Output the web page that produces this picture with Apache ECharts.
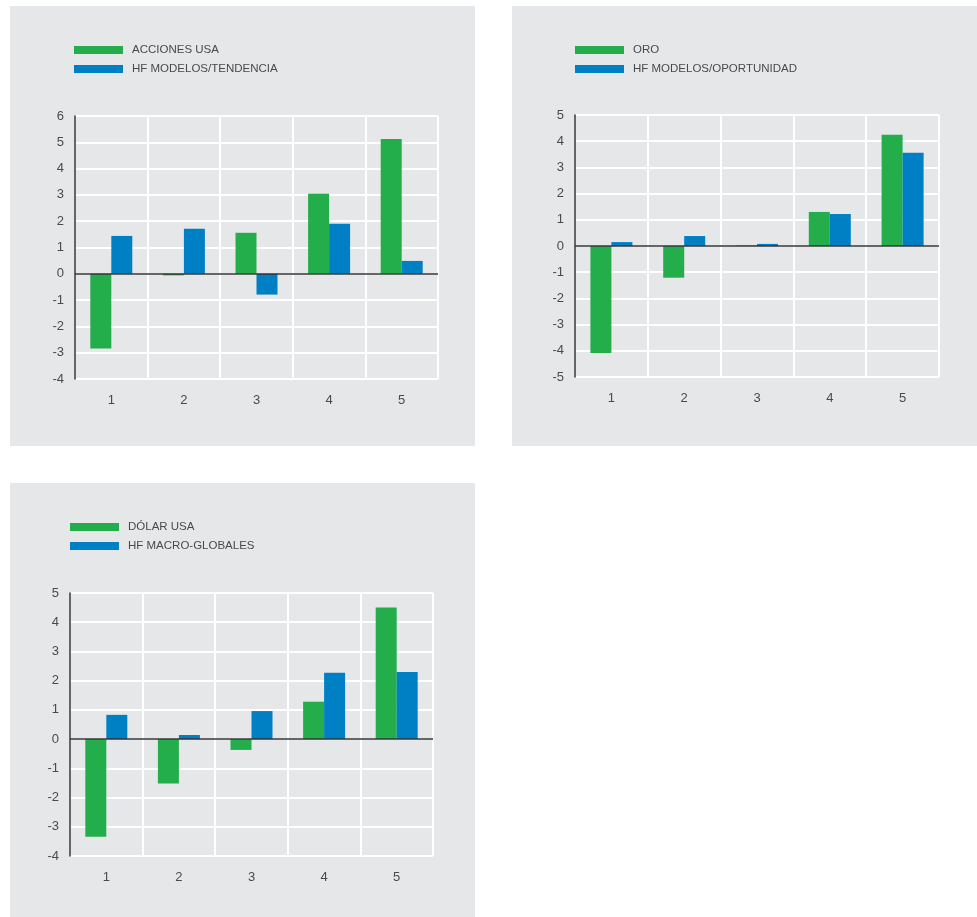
<!DOCTYPE html>
<html>
<head>
<meta charset="utf-8">
<script src="https://cdn.jsdelivr.net/npm/echarts@6/dist/echarts.min.js"></script>
<style>
  html, body { margin: 0; padding: 0; background: #ffffff; }
  #chart { width: 977px; height: 917px; }
</style>
</head>
<body>
<div id="chart"></div>
<script>
// Quintile categories shared by all three panels
const categories = ['1', '2', '3', '4', '5'];

// Panel 1: US equities vs trend-following hedge funds
const accionesUsa = [-2.84, -0.06, 1.56, 3.04, 5.13];
const hfModelosTendencia = [1.44, 1.71, -0.79, 1.90, 0.49];

// Panel 2: gold vs opportunistic model hedge funds
const oro = [-4.08, -1.21, 0.02, 1.30, 4.25];
const hfModelosOportunidad = [0.15, 0.38, 0.08, 1.22, 3.56];

// Panel 3: US dollar vs global macro hedge funds
const dolarUsa = [-3.34, -1.52, -0.37, 1.28, 4.50];
const hfMacroGlobales = [0.83, 0.14, 0.96, 2.27, 2.30];

const GREEN = '#23ae4b';
const BLUE = '#0080c4';
const PANEL_BG = '#e6e7e8';
const TEXT = '#4a4a4a';
const FONT = '"Liberation Sans", Arial, Helvetica, sans-serif';

const panels = [
  { names: ['ACCIONES USA', 'HF MODELOS/TENDENCIA'], data: [accionesUsa, hfModelosTendencia],
    min: -4, max: 6, bg: [10, 6, 465, 440],
    grid: { left: 75, top: 116, width: 363, height: 263 }, legend: { left: 74, top: 43 } },
  { names: ['ORO', 'HF MODELOS/OPORTUNIDAD'], data: [oro, hfModelosOportunidad],
    min: -5, max: 5, bg: [512, 6, 465, 440],
    grid: { left: 575, top: 115, width: 364, height: 262 }, legend: { left: 575, top: 43 } },
  { names: ['DÓLAR USA', 'HF MACRO-GLOBALES'], data: [dolarUsa, hfMacroGlobales],
    min: -4, max: 5, bg: [10, 483, 465, 434],
    grid: { left: 70, top: 593, width: 363, height: 263 }, legend: { left: 70, top: 520 } }
];

const option = {
  animation: false,
  textStyle: { fontFamily: FONT },
  graphic: panels.map(p => ({
    type: 'rect', silent: true, z: -10,
    shape: { x: p.bg[0], y: p.bg[1], width: p.bg[2], height: p.bg[3] },
    style: { fill: PANEL_BG }
  })),
  legend: panels.map(p => ({
    data: p.names,
    orient: 'vertical',
    left: p.legend.left, top: p.legend.top,
    padding: 0,
    itemGap: 5,
    itemWidth: 49, itemHeight: 8,
    icon: 'rect',
    selectedMode: false,
    textStyle: { color: TEXT, fontSize: 11.5, fontFamily: FONT, lineHeight: 14, padding: [0, 0, 0, 4] }
  })),
  grid: panels.map(p => ({ ...p.grid, containLabel: false })),
  xAxis: panels.map((p, i) => ({
    type: 'category', gridIndex: i, data: categories,
    axisLine: { show: false, onZero: false },
    axisTick: { show: false },
    axisLabel: { color: TEXT, fontSize: 13, margin: 15, fontFamily: FONT },
    splitLine: { show: true, interval: 0, lineStyle: { color: '#ffffff', width: 2 } }
  })),
  yAxis: panels.map((p, i) => ({
    type: 'value', gridIndex: i, min: p.min, max: p.max, interval: 1,
    axisLine: { show: true, lineStyle: { color: '#333333', width: 1.5 } },
    axisTick: { show: false },
    axisLabel: { color: TEXT, fontSize: 13, margin: 11, fontFamily: FONT },
    splitLine: { show: true, lineStyle: { color: '#ffffff', width: 2 } }
  })),
  series: panels.flatMap((p, i) => p.names.map((name, k) => ({
    name, type: 'bar', xAxisIndex: i, yAxisIndex: i,
    data: p.data[k],
    barWidth: 21, barGap: '0%',
    itemStyle: { color: k === 0 ? GREEN : BLUE },
    z: 3,
    markLine: k === 0 ? {
      silent: true, symbol: 'none', label: { show: false },
      lineStyle: { color: '#333333', width: 1.5, type: 'solid' },
      data: [{ yAxis: 0 }], z: 5
    } : undefined
  })))
};

const chart = echarts.init(document.getElementById('chart'), null, { renderer: 'canvas' });
chart.setOption(option);
</script>
</body>
</html>
